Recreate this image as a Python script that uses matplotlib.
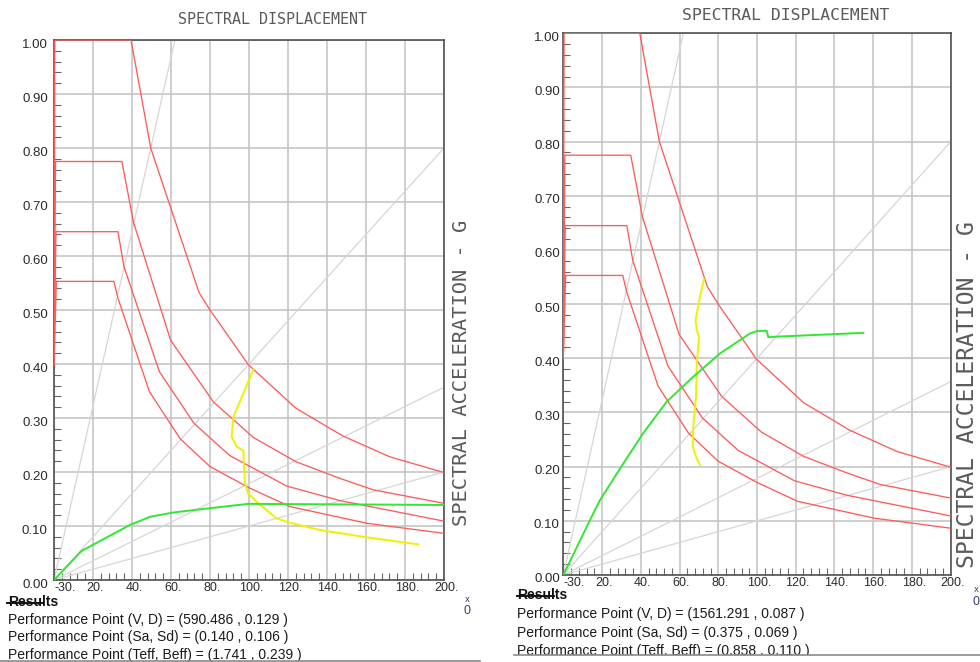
import numpy as np
import matplotlib
matplotlib.use("Agg")
import matplotlib.pyplot as plt
import matplotlib.transforms as mtransforms
from matplotlib.lines import Line2D
from matplotlib.patches import Rectangle

# ---------------- data ----------------
x_ticks = [0, 20, 40, 60, 80, 100, 120, 140, 160, 180, 200]
x_tick_labels = ["-30.", "20.", "40.", "60.", "80.", "100.", "120.", "140.", "160.", "180.", "200."]
y_ticks = [0.0, 0.1, 0.2, 0.3, 0.4, 0.5, 0.6, 0.7, 0.8, 0.9, 1.0]
y_tick_labels = ["0.00", "0.10", "0.20", "0.30", "0.40", "0.50", "0.60", "0.70", "0.80", "0.90", "1.00"]

# demand spectra (Sd, Sa) - same in both panels
spec1_sd = [0, 0.4, 39.5, 49.6, 74.4, 80.0, 99.6, 124.1, 148.0, 172.3, 200]
spec1_sa = [0.40, 1.00, 1.00, 0.80, 0.532, 0.50, 0.399, 0.318, 0.267, 0.228, 0.199]
spec2_sd = [0, 0.8, 34.8, 40.8, 59.8, 81.7, 102.2, 124.1, 146.7, 163.7, 200]
spec2_sa = [0.40, 0.775, 0.775, 0.662, 0.444, 0.330, 0.264, 0.219, 0.188, 0.167, 0.142]
spec3_sd = [0, 1.0, 32.8, 35.9, 54.0, 71.8, 90.3, 119.3, 146.7, 200]
spec3_sa = [0.40, 0.645, 0.645, 0.580, 0.386, 0.290, 0.230, 0.174, 0.147, 0.109]
spec4_sd = [0, 1.2, 30.7, 32.7, 48.9, 64.6, 80.0, 100.5, 121.0, 160.4, 200]
spec4_sa = [0.40, 0.553, 0.553, 0.523, 0.349, 0.262, 0.210, 0.170, 0.136, 0.105, 0.0864]

# constant-period radial lines (end points)
period_end_sd = [62, 200, 200, 200]
period_end_sa = [1.0, 0.80, 0.357, 0.20]

# left panel
yellow_l_sd = [102.2, 92.0, 91.1, 93.7, 97.1, 97.4, 97.9, 99.6, 104.8, 114.2, 121.0, 136.4, 160.4, 186.8]
yellow_l_sa = [0.390, 0.302, 0.265, 0.247, 0.240, 0.216, 0.179, 0.160, 0.142, 0.114, 0.106, 0.0926, 0.079, 0.066]
green_l_sd = [0, 14.2, 39.0, 49.2, 61.2, 80.0, 99.6, 200]
green_l_sa = [0, 0.054, 0.102, 0.117, 0.125, 0.133, 0.141, 0.139]

# right panel
yellow_r_sd = [72.6, 70.2, 68.3, 68.9, 70.1, 68.9, 68.5, 67.1, 66.8, 68.9, 70.6]
yellow_r_sa = [0.546, 0.508, 0.471, 0.452, 0.440, 0.391, 0.329, 0.274, 0.237, 0.215, 0.203]
green_r_sd = [0, 13.8, 18.9, 31.0, 41.3, 53.4, 67.1, 80.9, 96.4, 99.8, 105.0, 105.8, 110.0, 154.9]
green_r_sa = [0, 0.1015, 0.138, 0.206, 0.262, 0.320, 0.366, 0.409, 0.446, 0.450, 0.451, 0.439, 0.440, 0.447]

results_left = ["Performance Point (V, D) = (590.486 , 0.129 )",
                "Performance Point (Sa, Sd) = (0.140 , 0.106 )",
                "Performance Point (Teff, Beff) = (1.741 , 0.239 )"]
results_right = ["Performance Point (V, D) = (1561.291 , 0.087 )",
                 "Performance Point (Sa, Sd) = (0.375 , 0.069 )",
                 "Performance Point (Teff, Beff) = (0.858 , 0.110 )"]

# ---------------- figure ----------------
W, H = 980, 662
fig = plt.figure(figsize=(W / 100, H / 100), dpi=100)
fig.patch.set_facecolor("white")


def fx(px):
    return px / W


def fy(py):
    return 1 - py / H


def setup_axes(ax, ylab_pad):
    ax.set_xlim(0, 200)
    ax.set_ylim(0, 1.0)
    ax.set_xticks(x_ticks)
    ax.set_xticklabels(x_tick_labels, fontsize=9, color="#2a2a2a", family="Liberation Sans")
    ax.set_yticks(y_ticks)
    ax.set_yticklabels(y_tick_labels, fontsize=9.5, color="#2a2a2a", family="Liberation Sans")
    ax.set_xticks(np.arange(0, 201, 4), minor=True)
    ax.set_yticks(np.arange(0, 1.0001, 0.02), minor=True)
    ax.tick_params(which="major", length=0)
    ax.tick_params(axis="x", which="major", pad=1.5)
    ax.tick_params(axis="y", which="major", pad=ylab_pad)
    ax.tick_params(which="minor", direction="in", length=5, width=0.8, color="#666666")
    ax.grid(which="major", color="#c6c6c6", lw=1.2, zorder=0)
    ax.set_axisbelow(True)
    for s in ax.spines.values():
        s.set_color("#444444")
        s.set_linewidth(1.1)
    lab0 = ax.get_xticklabels()[0]
    lab0.set_horizontalalignment("left")
    off = mtransforms.ScaledTranslation(0, -3 / 100, fig.dpi_scale_trans)
    for lab in ax.get_yticklabels():
        lab.set_transform(lab.get_transform() + off)
    offx = mtransforms.ScaledTranslation(2 / 100, 0, fig.dpi_scale_trans)
    for lab in ax.get_xticklabels()[1:]:
        lab.set_transform(lab.get_transform() + offx)

    for esd, esa in zip(period_end_sd, period_end_sa):
        ax.plot([0, esd], [0, esa], color="#d6d6d6", lw=0.9, zorder=1)
    for sd, sa in [(spec1_sd, spec1_sa), (spec2_sd, spec2_sa), (spec3_sd, spec3_sa), (spec4_sd, spec4_sa)]:
        ax.plot(sd, sa, color="#ff5a5a", lw=0.95, zorder=3)


ax1 = fig.add_axes([fx(54), fy(580), fx(390), 540 / H])
setup_axes(ax1, 4.5)
ax1.plot(yellow_l_sd, yellow_l_sa, color="#f0f000", lw=1.4, zorder=4)
ax1.plot(green_l_sd, green_l_sa, color="#33e633", lw=1.4, zorder=5)

ax2 = fig.add_axes([fx(563.3), fy(575), fx(387.4), 541.7 / H])
setup_axes(ax2, 2.5)
ax2.plot(yellow_r_sd, yellow_r_sa, color="#f0f000", lw=1.4, zorder=4)
ax2.plot(green_r_sd, green_r_sa, color="#33e633", lw=1.4, zorder=5)

# axis titles
mono = "DejaVu Sans Mono"
fig.text(fx(272), fy(20), "SPECTRAL DISPLACEMENT", ha="center", va="center",
         family=mono, fontsize=10.8, color="#5a5a5a")
fig.text(fx(786), fy(15), "SPECTRAL DISPLACEMENT", ha="center", va="center",
         family=mono, fontsize=11.8, color="#5a5a5a")
fig.text(fx(461), fy(373), "SPECTRAL ACCELERATION - G", ha="center", va="center",
         rotation=90, family=mono, fontsize=14.7, color="#5a5a5a")
fig.text(fx(967), fy(395), "SPECTRAL ACCELERATION - G", ha="center", va="center",
         rotation=90, family=mono, fontsize=16.7, color="#5a5a5a")

# small axis marks
for xx, yy in [(467, 599), (976, 590)]:
    fig.text(fx(xx), fy(yy), "x", ha="center", va="center", fontsize=6, color="#334466")
    fig.text(fx(xx), fy(yy + 12), "0", ha="center", va="center", fontsize=9, color="#334466",
             family="Liberation Sans")

# results block
sans = "Liberation Sans"
fig.text(fx(8), fy(602.5), "Results", ha="left", va="center", family=sans,
         fontsize=10, fontweight="bold", color="#111111")
fig.add_artist(Line2D([fx(7), fx(43)], [fy(603), fy(603)], color="#111111", lw=1.4))
for i, t in enumerate(results_left):
    fig.text(fx(8), fy(620 + 17.5 * i), t, ha="left", va="center", family=sans,
             fontsize=10, color="#1a1a1a")

fig.text(fx(517), fy(595), "Results", ha="left", va="center", family=sans,
         fontsize=10, fontweight="bold", color="#111111")
fig.add_artist(Line2D([fx(516.5), fx(554)], [fy(595.5), fy(595.5)], color="#111111", lw=1.4))
for i, t in enumerate(results_right):
    fig.text(fx(517), fy(614 + 18.5 * i), t, ha="left", va="center", family=sans,
             fontsize=10, color="#1a1a1a")

# separators
fig.add_artist(Rectangle((fx(510), 0), fx(470), fy(655), transform=fig.transFigure,
                         facecolor="white", edgecolor="none", zorder=10))
fig.add_artist(Line2D([0, fx(480)], [fy(661), fy(661)], color="#8a8a8a", lw=1.2, zorder=11))
fig.add_artist(Line2D([fx(514), 1], [fy(655), fy(655)], color="#8a8a8a", lw=1.2, zorder=11))

fig.savefig("out.png", dpi=100, facecolor="white")
